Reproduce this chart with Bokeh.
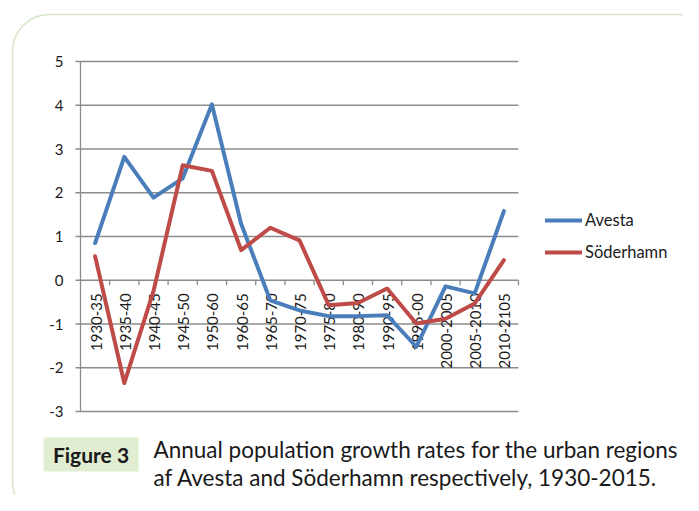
import numpy as np
from bokeh.plotting import figure
from bokeh.models import Range1d, BoxAnnotation
from bokeh.core.properties import value
from bokeh.embed import file_html
from bokeh.resources import INLINE

# ---- data ----
categories = ["1930-35", "1935-40", "1940-45", "1945-50", "1950-60", "1960-65",
              "1965-70", "1970-75", "1975-80", "1980-90", "1990-95", "1995-00",
              "2000-2005", "2005-2010", "2010-2105"]
avesta = [0.85, 2.82, 1.89, 2.33, 4.02, 1.29, -0.46, -0.69, -0.82, -0.82,
          -0.80, -1.52, -0.14, -0.30, 1.58]
soderhamn = [0.55, -2.35, -0.25, 2.63, 2.50, 0.69, 1.20, 0.91, -0.57, -0.52,
             -0.19, -0.99, -0.88, -0.53, 0.46]
series_names = ["Avesta", "Söderhamn"]
y_ticks = [-3, -2, -1, 0, 1, 2, 3, 4, 5]
y_tick_labels = [str(t) for t in y_ticks]
fig_label = "Figure 3"
caption_lines = ["Annual population growth rates for the urban regions",
                 "af Avesta and Söderhamn respectively, 1930-2015."]

# ---- layout (pixels) ----
W, H = 683, 495
CW = 29.2          # px per category
UNIT = 43.75       # px per y unit
FRAME_L = 80       # px of left edge of plot area
Y_TOP_PIX = 61     # px of y = max tick

n = len(categories)
idx = np.arange(n)
x_lo, x_hi = -0.5, n - 0.5
XS = x_lo - FRAME_L / CW
YT = max(y_ticks) + Y_TOP_PIX / UNIT


def dx(px):
    return XS + px / CW


def dy(py):
    return YT - py / UNIT


p = figure(width=W, height=H, x_range=Range1d(XS, XS + W / CW),
           y_range=Range1d(YT - H / UNIT, YT), output_backend="svg",
           toolbar_location=None, x_axis_location=None, y_axis_location=None,
           min_border=0, min_border_left=0, min_border_right=0,
           min_border_top=0, min_border_bottom=0)
p.grid.visible = False
p.outline_line_color = None
p.background_fill_color = "white"
p.border_fill_color = "white"

FONT = value("Lato")
GRID = "#8c8c8c"
TXT = "#1a1a1a"

# outer rounded frame
p.add_layout(BoxAnnotation(left=dx(12), right=dx(714), top=dy(14), bottom=dy(518),
                           fill_alpha=0, line_color="#7aab4e", line_width=1.5,
                           border_radius=37, level="underlay"))

# gridlines (with outward ticks on the left)
p.segment(x0=[x_lo - 5 / CW] * len(y_ticks), y0=y_ticks,
          x1=[x_hi] * len(y_ticks), y1=y_ticks, line_color=GRID, line_width=1.3)
# y axis line
p.segment(x0=[x_lo], y0=[min(y_ticks)], x1=[x_lo], y1=[max(y_ticks)],
          line_color=GRID, line_width=1.3)
# x axis ticks at category boundaries (axis at y=0)
bounds = idx + 0.5
p.segment(x0=bounds, y0=[0] * n, x1=bounds, y1=[-5 / UNIT] * n,
          line_color=GRID, line_width=1.3)

# y tick labels
p.text(x=[x_lo] * len(y_ticks), y=y_ticks, text=y_tick_labels, x_offset=-17,
       text_align="right", text_baseline="middle", text_font=FONT,
       text_font_size="15px", text_color=TXT)

# x category labels (vertical, hanging from y=0)
p.text(x=idx, y=[0] * n, text=categories, angle=np.pi / 2, y_offset=13, x_offset=1,
       text_align="right", text_baseline="middle", text_font=FONT,
       text_font_size="15px", text_color=TXT)

# series
p.line(idx, avesta, line_width=4, line_color="#4a7ebb", line_join="round",
       line_cap="round", legend_label=series_names[0])
p.line(idx, soderhamn, line_width=4, line_color="#be4b48", line_join="round",
       line_cap="round", legend_label=series_names[1])

lg = p.legend[0]
lg.location = (545, 233)
lg.orientation = "vertical"
lg.glyph_width = 37
lg.glyph_height = 20
lg.label_height = 20
lg.spacing = 12
lg.label_standoff = 3
lg.padding = 0
lg.margin = 0
lg.border_line_alpha = 0
lg.background_fill_alpha = 0
lg.label_text_font = "Lato"
lg.label_text_font_size = "16.5px"
lg.label_text_color = TXT

# caption
p.add_layout(BoxAnnotation(left=dx(43), right=dx(138), top=dy(437), bottom=dy(471),
                           fill_color="#e1edd1", fill_alpha=1, line_alpha=0,
                           level="underlay"))
p.text(x=[dx(90.5)], y=[dy(454)], text=[fig_label], text_align="center",
       text_baseline="middle", text_font=FONT, text_font_style="bold",
       text_font_size="21px", text_color=TXT)
p.text(x=[dx(153)] * len(caption_lines), y=[dy(449), dy(477)], text=caption_lines,
       text_align="left", text_baseline="middle", text_font=FONT,
       text_font_size="22.5px", text_color=TXT)

open("out.html", "w").write(file_html(p, INLINE))
